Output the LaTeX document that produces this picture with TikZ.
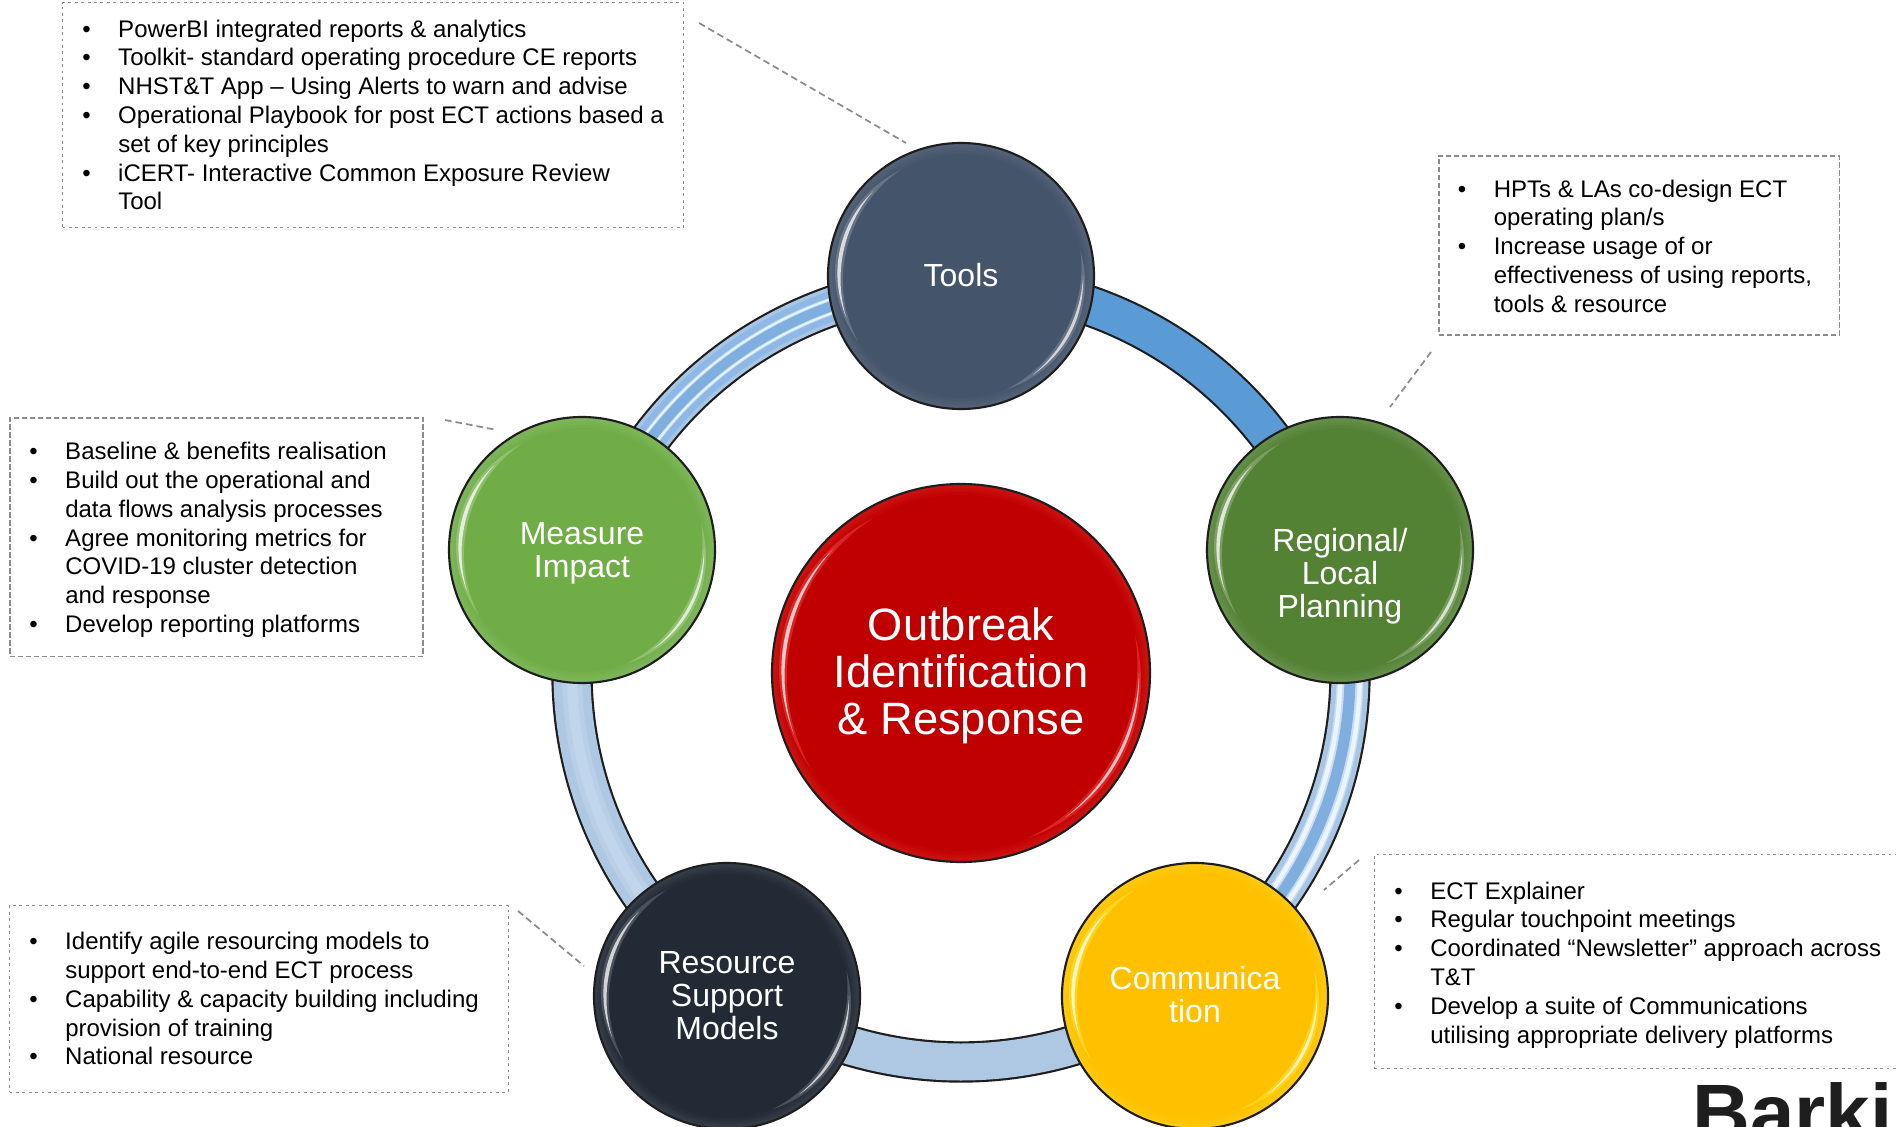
\documentclass[tikz,border=0pt]{standalone}
\usepackage{fontspec}
\setmainfont{Liberation Sans}
\definecolor{cTools}{HTML}{44546A}
\definecolor{cRegional}{HTML}{548235}
\definecolor{cMeasure}{HTML}{70AD47}
\definecolor{cResource}{HTML}{222A35}
\definecolor{cComm}{HTML}{FFC000}
\definecolor{cCentre}{HTML}{C00000}
\definecolor{ringA}{HTML}{5B9BD5}
\definecolor{ringB}{HTML}{A9C5E4}
\definecolor{ringC}{HTML}{7FAEDF}
\definecolor{ringD}{HTML}{AEC7E3}
\definecolor{ringE}{HTML}{C9DCF0}
\definecolor{ringF}{HTML}{EAF5FD}
\definecolor{ringG}{HTML}{8FB8E6}
\definecolor{ringH}{HTML}{C5E2F8}
\definecolor{dashgrey}{HTML}{8C8C8C}
\definecolor{edgeblack}{HTML}{1E1E1E}
\tikzset{
  x=0.75pt,y=-0.75pt,
  thinbox/.style={draw=dashgrey,line width=0.8pt,dash pattern=on 2.2pt off 2.6pt,anchor=north west,inner sep=0pt},
  thickbox/.style={draw=dashgrey,line width=1.2pt,dash pattern=on 4pt off 2pt,anchor=north west,inner sep=0pt},
  leaderline/.style={draw=dashgrey,line width=1.3pt,dash pattern=on 5pt off 3pt},
  listtext/.style={anchor=north west,inner sep=0pt,align=left,text=black,font=\fontsize{18}{21.6}\selectfont},
  disclabel/.style={inner sep=0pt,align=center,text=white,font=\fontsize{24}{24.75}\selectfont},
  bigdisclabel/.style={inner sep=0pt,align=center,text=white,font=\fontsize{34}{35.25}\selectfont},
  discbody/.style={circle,inner sep=0pt,outer sep=0pt},
}
\newcommand\bul{\makebox[27pt][l]{•}}
\newcommand\hng{\hspace*{27pt}}
% one ring segment: angles, then layers width/colour
\newcommand\ringseg[3]{%
  \draw[edgeblack,line width=31pt] (ringc) ++(#1:389) arc[start angle=#1,end angle=#2,radius=389];
  \foreach \wd/\cl in {#3}{%
    \draw[\cl,line width=\wd*0.75pt] (ringc) ++(#1:389) arc[start angle=#1,end angle=#2,radius=389];
  }%
}
\newcommand\crescent[6]{% a b R w colour opacity
  \fill[#5,opacity=#6] plot[domain=#1:#2,samples=36] (\x:{#3+#4*sin((\x-(#1))/(#2-(#1))*180)})
     -- plot[domain=#2:#1,samples=36] (\x:{#3-#4*sin((\x-(#1))/(#2-(#1))*180)}) -- cycle;
}
% disc: name, centre x, centre y, radius, fill, glow colour
\newcommand\disc[6]{%
  \node[discbody,fill=#5,minimum size={#4*1.5pt}] (#1) at (#2,#3) {};
  \foreach \W in {2,4,6,8,11}{%
    \draw[#6,opacity=.05,line width=\W*0.75pt] (#1.center) circle[radius={#4-\W/2}];
  }
  \begin{scope}[shift={(#1.center)}]
    \crescent{148}{240}{#4-11}{4.5}{#6}{.4}
    \crescent{160}{224}{#4-11}{1.9}{white}{.75}
    \crescent{-12}{68}{#4-11}{4}{#6}{.4}
    \crescent{0}{54}{#4-11}{1.5}{white}{.7}
  \end{scope}
  \draw[edgeblack,line width=1.6pt] (#1.center) circle[radius=#4];
}
\begin{document}
\begin{tikzpicture}
\useasboundingbox (0,0) rectangle (1896,1127);
\clip (0,0) rectangle (1896,1127);
\fill[white] (0,0) rectangle (1896,1127);
\coordinate (ringc) at (961,673);

% ring segments
\ringseg{-90}{-18}{37/ringA}
\ringseg{198}{270}{37/ringB,30/ringG,17/ringH,15/ringF,12/ringH,10/ringC}
\ringseg{-18}{54}{37/ringB,27/ringE,24/ringF,15/ringE,11/ringC}
\ringseg{126}{198}{37/ringD,20/{ringD!60!ringE},10/{ringD!30!ringE}}
\ringseg{54}{126}{37/ringD}

% discs
\disc{tools}{961}{276}{133}{cTools}{cTools!55!white}
\disc{regional}{1340}{550}{133}{cRegional}{cRegional!45!white}
\disc{measure}{582}{550}{133}{cMeasure}{cMeasure!45!white}
\disc{resource}{727}{996}{133}{cResource}{cResource!55!white}
\disc{comm}{1195}{996}{133}{cComm}{yellow!70!white}
\disc{centre}{961}{673}{189}{cCentre}{red!65!white}

% disc labels
\node[disclabel] (ttools) at (961,275) {Tools};
\node[disclabel] (tregional) at (1340,576.5) {Regional/\\Local\\Planning};
\node[disclabel] (tmeasure) at (582,553.5) {Measure\\Impact};
\node[disclabel] (tresource) at (727,995.5) {Resource\\Support\\Models};
\node[disclabel] (tcomm) at (1195,995) {Communica\\tion};
\node[bigdisclabel] (tcentre) at (961,676) {Outbreak\\Identification\\\& Response};

% boxes
\node[thinbox,minimum width=466pt,minimum height=169pt] (boxtools) at (62,2) {};
\node[thickbox,minimum width=300.5pt,minimum height=134.5pt] (boxregional) at (1438,155) {};
\node[thickbox,minimum width=310pt,minimum height=179pt] (boxmeasure) at (9,417) {};
\node[thinbox,minimum width=374pt,minimum height=140pt] (boxresource) at (9,905) {};
\node[thinbox,minimum width=500pt,minimum height=160.5pt] (boxcomm) at (1374,854) {};

% list texts
\node[listtext] (ltools) at (82,19.5) {\bul PowerBI integrated reports \& analytics\\
\bul Toolkit- standard operating procedure CE reports\\
\bul NHST\&T App – Using Alerts to warn and advise\\
\bul Operational Playbook for post ECT actions based a\\
\hng set of key principles\\
\bul iCERT- Interactive Common Exposure Review\\
\hng Tool};
\node[listtext] (lregional) at (1457.5,179.5) {\bul HPTs \& LAs co-design ECT\\
\hng operating plan/s\\
\bul Increase usage of or\\
\hng effectiveness of using reports,\\
\hng tools \& resource};
\node[listtext] (lmeasure) at (29,442) {\bul Baseline \& benefits realisation\\
\bul Build out the operational and\\
\hng data flows analysis processes\\
\bul Agree monitoring metrics for\\
\hng COVID-19 cluster detection\\
\hng and response\\
\bul Develop reporting platforms};
\node[listtext] (lresource) at (29,932) {\bul Identify agile resourcing models to\\
\hng support end-to-end ECT process\\
\bul Capability \& capacity building including\\
\hng provision of training\\
\bul National resource};
\node[listtext] (lcomm) at (1394,881.5) {\bul ECT Explainer\\
\bul Regular touchpoint meetings\\
\bul Coordinated “Newsletter” approach across\\
\hng T\&T\\
\bul Develop a suite of Communications\\
\hng utilising appropriate delivery platforms};

% leader lines
\coordinate (la1) at (699,23); \coordinate (la2) at (906,143);
\coordinate (lb1) at (1431,352); \coordinate (lb2) at (1390,407);
\coordinate (lc1) at (445,420); \coordinate (lc2) at (497,430);
\coordinate (ld1) at (518,911); \coordinate (ld2) at (584,966);
\coordinate (le1) at (1359,860); \coordinate (le2) at (1324,890);
\draw[leaderline] (la1) -- (la2);
\draw[leaderline] (lb1) -- (lb2);
\draw[leaderline] (lc1) -- (lc2);
\draw[leaderline] (ld1) -- (ld2);
\draw[leaderline] (le1) -- (le2);

% cropped wordmark
\node[anchor=base west,inner sep=0pt,text=edgeblack,font=\fontsize{60}{60}\selectfont\bfseries] (wordmark) at (1692,1140) {Barkin};
\end{tikzpicture}
\end{document}
